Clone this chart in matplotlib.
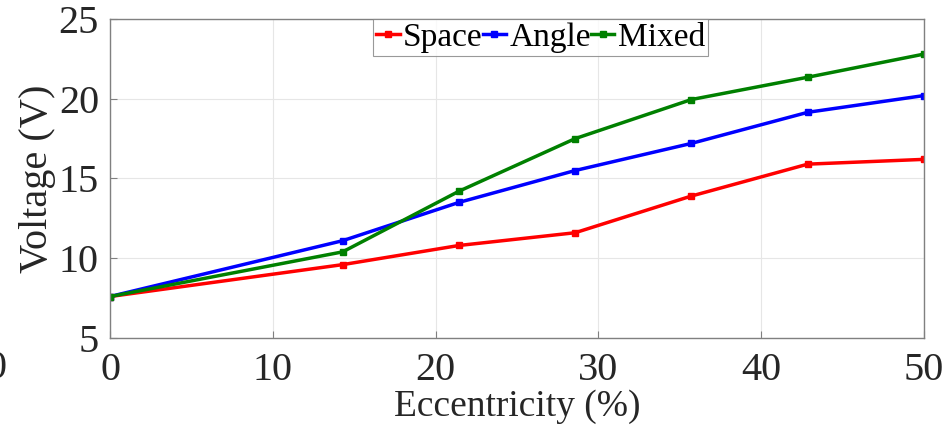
import numpy as np
import matplotlib.pyplot as plt

plt.rcParams['font.family'] = ['Liberation Serif', 'DejaVu Serif']
plt.rcParams['mathtext.fontset'] = 'stix'

eccentricity = [0, 14.29, 21.43, 28.57, 35.71, 42.86, 50]
space = [7.6, 9.6, 10.8, 11.6, 13.9, 15.9, 16.2]
angle = [7.6, 11.1, 13.5, 15.5, 17.2, 19.15, 20.2]
mixed = [7.6, 10.4, 14.2, 17.5, 19.95, 21.35, 22.8]

series = [("Space", space, "#ff0000"),
          ("Angle", angle, "#0000ff"),
          ("Mixed", mixed, "#008000")]

fig = plt.figure(figsize=(9.49, 4.32), dpi=100)
ax = fig.add_axes([110 / 949, 1 - 338 / 432, 814 / 949, 319 / 432])

for name, vals, col in series:
    ax.plot(eccentricity, vals, color=col, lw=2.5, marker="s", ms=3.8, label=name)

ax.set_xlim(0, 50)
ax.set_ylim(5, 25)
ax.set_xticks(np.arange(0, 51, 10))
ax.set_yticks(np.arange(5, 26, 5))
ax.grid(True, color="#e6e6e6", lw=0.8)
ax.set_axisbelow(True)
for sp in ax.spines.values():
    sp.set_color("#808080")
    sp.set_linewidth(1.0)
ax.tick_params(direction="in", length=5, color="#808080", labelsize=29,
               labelcolor="#262626")
ax.tick_params(axis="x", pad=10)
ax.tick_params(axis="y", pad=8)
ax.set_xlabel("Eccentricity (%)", fontsize=27, color="#262626", labelpad=0)
ax.set_ylabel("Voltage (V)", fontsize=29, color="#262626", labelpad=2)

leg = ax.legend(loc="upper center", bbox_to_anchor=(0.529, 1.0), ncol=3, fontsize=24,
                handlelength=0.7, handletextpad=0.1, columnspacing=0.0,
                borderaxespad=0.0, borderpad=0.1, frameon=True, fancybox=False)
leg.get_frame().set_edgecolor("#808080")
leg.get_frame().set_linewidth(0.8)

# clipped tick label at the far left edge
fig.text(7 / 949, 1 - 368 / 432, "0", fontsize=29, color="#262626", ha="right", va="center")

fig.savefig("out.png", dpi=100)
